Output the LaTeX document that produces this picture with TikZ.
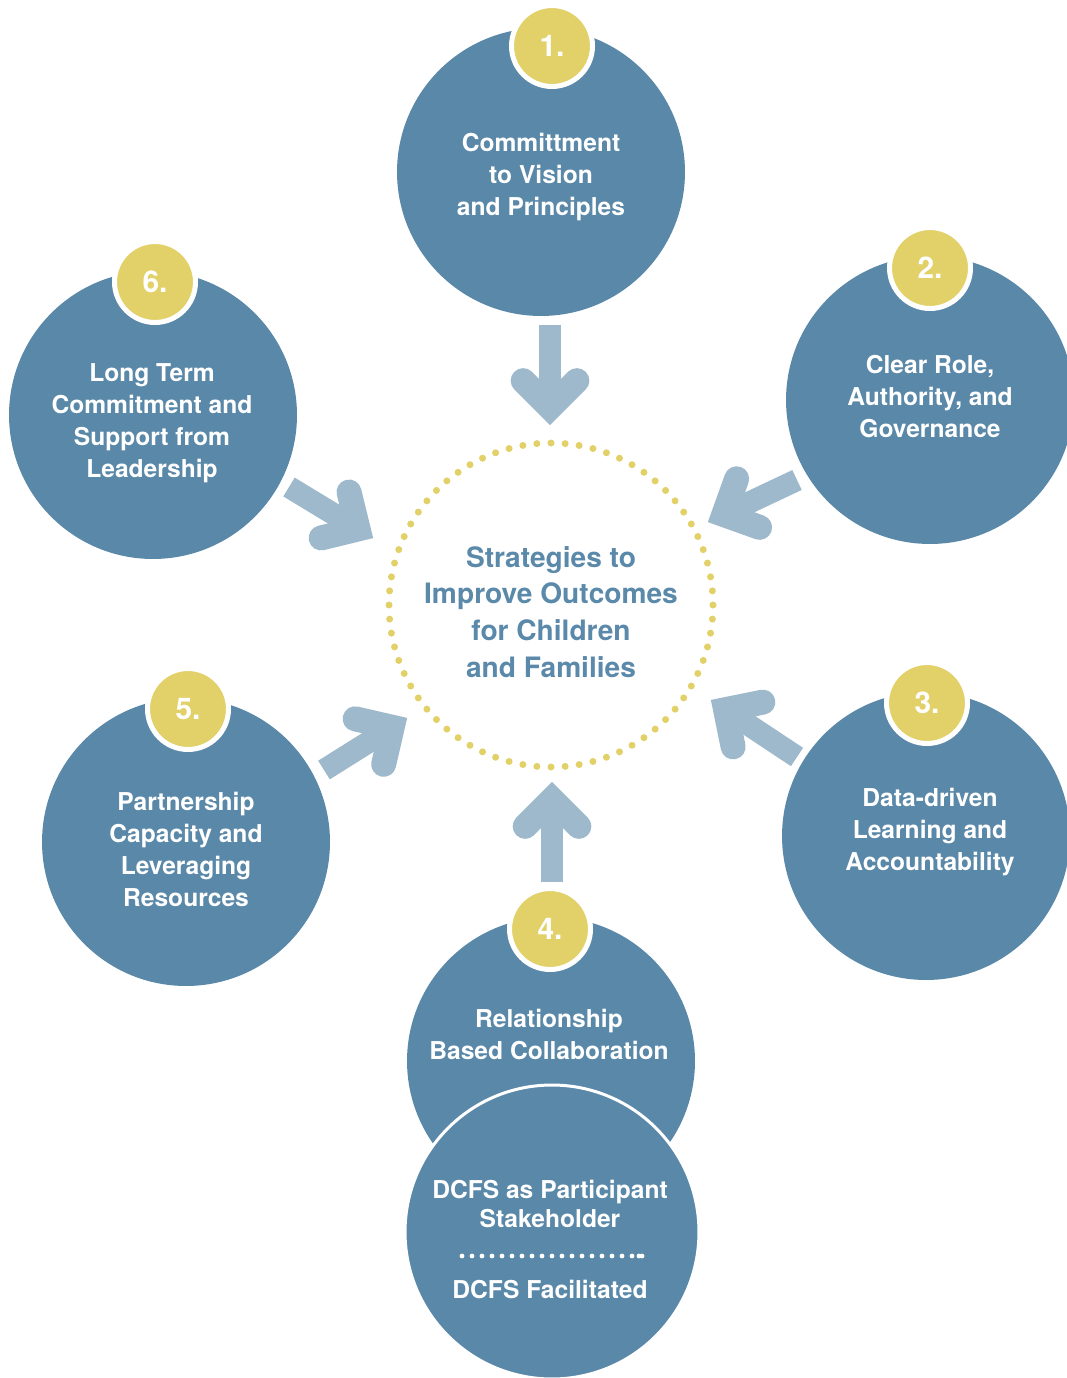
\documentclass[tikz,border=0pt]{standalone}
\usepackage{fontspec}
\setmainfont{TeX Gyre Heros}
\usepackage{tikz}
\usetikzlibrary{calc}

\definecolor{ringblue}{HTML}{5A88A8}
\definecolor{arrowblue}{HTML}{9EB9CC}
\definecolor{badgegold}{HTML}{E2D068}
\definecolor{titleblue}{HTML}{5A89AA}

\tikzset{
  bigcirc/.style={circle, fill=ringblue, minimum size=5.76cm, inner sep=0pt},
  circtext/.style={text=white, font=\fontsize{14}{18.2}\selectfont\bfseries, align=center},
  badge/.style={circle, fill=badgegold, draw=white, line width=0.1cm, minimum size=1.62cm,
    inner sep=0pt, text=white, font=\fontsize{17}{20}\selectfont\bfseries},
  shaftline/.style={draw=arrowblue, line width=0.44cm},
  headline/.style={draw=arrowblue, line width=0.5cm, line cap=round, line join=miter},
}

% fat arrow: #1 = tail, #2 = tip
\newcommand{\inarrow}[2]{%
  \coordinate (v) at ($(#2)!0.35cm!(#1)$);
  \draw[shaftline] (#1) -- (v);
  \draw[headline] ($(v)!0.76cm!45:(#1)$) -- (v) -- ($(v)!0.76cm!-45:(#1)$);
}

\begin{document}
\begin{tikzpicture}[x=0.02cm, y=-0.02cm]
    \useasboundingbox (0,0) rectangle (1067,1378);
    \clip (0,0) rectangle (1067,1378);

    % Mitte
    \coordinate (mid) at (551,605);
    \foreach \a in {0,5,...,355}
        \fill[badgegold] ($(mid)+(\a:162)$) circle (3.5);
    \node[text=titleblue, font=\fontsize{16}{21}\selectfont\bfseries, align=center] (title) at (551,612)
        {Strategies to\\Improve Outcomes\\for Children\\and Families};

    % Pfeile
    \coordinate (s1) at (550,325); \coordinate (h1) at (550,425);
    \coordinate (s2) at (797,480); \coordinate (h2) at (708,522);
    \coordinate (s3) at (797,757); \coordinate (h3) at (711,700);
    \coordinate (s4) at (552,882); \coordinate (h4) at (552,782);
    \coordinate (s5) at (324,770); \coordinate (h5) at (407,718);
    \coordinate (s6) at (289,487); \coordinate (h6) at (373,538);
    \inarrow{s1}{h1}
    \inarrow{s2}{h2}
    \inarrow{s3}{h3}
    \inarrow{s4}{h4}
    \inarrow{s5}{h5}
    \inarrow{s6}{h6}

    % Kreise
    \node[bigcirc] (c1) at (541,172) {};
    \node[bigcirc] (c2) at (930,400) {};
    \node[bigcirc] (c3) at (926,836) {};
    \node[bigcirc] (c4) at (551,1061) {};
    \node[bigcirc] (c5) at (186,842) {};
    \node[bigcirc] (c6) at (153,415) {};
    \node[bigcirc, minimum size=5.88cm, draw=white, line width=0.06cm] (dcfs) at (552,1232) {};

    % Texte
    \node[circtext] (t1) at (541,177) {Committment\\to Vision\\and Principles};
    \node[circtext] (t2) at (930,397) {Clear Role,\\Authority, and\\Governance};
    \node[circtext] (t3) at (930,832) {Data-driven\\Learning and\\Accountability};
    \node[circtext] (t4) at (549,1034) {Relationship\\Based Collaboration};
    \node[circtext] (t5) at (186,849) {Partnership\\Capacity and\\Leveraging\\Resources};
    \node[circtext] (t6) at (152,423) {Long Term\\Commitment and\\Support from\\Leadership};
    \node[circtext, font=\fontsize{14}{16.5}\selectfont\bfseries] (tp) at (550,1204) {DCFS as Participant\\Stakeholder};
    \foreach \i in {0,...,18}
        \fill[white] (462+10*\i,1256) circle (2.4);
    \fill[white] (639,1256) circle (2.4);
    \node[circtext] (tf) at (550,1289) {DCFS Facilitated};

    % Nummern
    \node[badge] (b1) at (552,46) {1.};
    \node[badge] (b2) at (930,268) {2.};
    \node[badge] (b3) at (927,703) {3.};
    \node[badge] (b4) at (550,929) {4.};
    \node[badge] (b5) at (188,709) {5.};
    \node[badge] (b6) at (155,282) {6.};
\end{tikzpicture}
\end{document}
